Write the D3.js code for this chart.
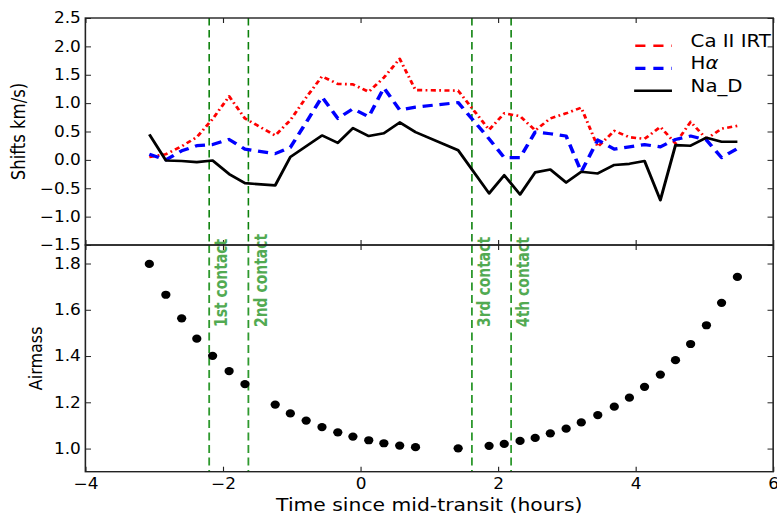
<!DOCTYPE html>
<html>
<head>
<meta charset="utf-8">
<script src="https://cdn.jsdelivr.net/npm/d3@7"></script>
<style>
  html, body { margin: 0; padding: 0; background: #fff; }
  svg { display: block; }
  text { font-family: "DejaVu Sans", "Bitstream Vera Sans", sans-serif; }
</style>
</head>
<body>
<svg id="fig" width="777" height="516"></svg>
<script>
// Observation times (hours from mid-transit)
const times = [-3.07, -2.83, -2.60, -2.38, -2.15, -1.91, -1.68, -1.24, -1.02, -0.79,
               -0.56, -0.33, -0.11, 0.12, 0.34, 0.57, 0.80, 1.42, 1.87, 2.09,
               2.32, 2.54, 2.76, 2.99, 3.21, 3.45, 3.69, 3.91, 4.13, 4.36,
               4.58, 4.80, 5.03, 5.25, 5.48];

// Line shifts (km/s)
const caII = [0.05, 0.10, 0.24, 0.40, 0.72, 1.12, 0.73, 0.43, 0.70, 1.10,
              1.47, 1.34, 1.33, 1.20, 1.45, 1.78, 1.23, 1.22, 0.53, 0.82,
              0.77, 0.52, 0.73, 0.82, 0.92, 0.23, 0.51, 0.40, 0.37, 0.58,
              0.29, 0.67, 0.37, 0.55, 0.60];
const halpha = [0.10, 0.00, 0.16, 0.25, 0.27, 0.36, 0.19, 0.11, 0.22, 0.66,
                1.11, 0.73, 0.90, 0.76, 1.27, 0.88, 0.93, 1.01, 0.37, 0.04,
                0.04, 0.49, 0.46, 0.42, -0.21, 0.35, 0.19, 0.23, 0.27, 0.23,
                0.36, 0.42, 0.35, 0.04, 0.20];
const naD = [0.45, -0.01, -0.02, -0.04, -0.01, -0.25, -0.41, -0.45, 0.05, 0.24,
             0.43, 0.30, 0.56, 0.42, 0.47, 0.66, 0.49, 0.17, -0.59, -0.27,
             -0.61, -0.22, -0.17, -0.40, -0.21, -0.24, -0.09, -0.07, -0.02, -0.71,
             0.26, 0.25, 0.39, 0.32, 0.32];

// Airmass at each exposure
const airmass = [1.798, 1.665, 1.563, 1.475, 1.401, 1.335, 1.279, 1.190, 1.152, 1.121,
                 1.093, 1.070, 1.052, 1.036, 1.023, 1.013, 1.006, 1.001, 1.012, 1.020,
                 1.033, 1.046, 1.066, 1.086, 1.113, 1.145, 1.181, 1.220, 1.267, 1.320,
                 1.382, 1.452, 1.533, 1.630, 1.742];

// Transit contact times
const contactTimes = [-2.20, -1.63, 1.62, 2.19];
const contactLabels = ["1st contact", "2nd contact", "3rd contact", "4th contact"];

const seriesNames = ["Ca II IRT", "H", "Na_D"];
const xTicks = [-4, -2, 0, 2, 4, 6];
const shiftTicks = [-1.5, -1.0, -0.5, 0.0, 0.5, 1.0, 1.5, 2.0, 2.5];
const airmassTicks = [1.0, 1.2, 1.4, 1.6, 1.8];

// The figure is laid out on a 688-wide canvas and stretched to 777 px.
const W = 777, baseW = 688, sx = W / baseW;
const svg = d3.select("#fig");
const g = svg.append("g").attr("transform", `scale(${sx},1)`);

const xL = 75.6, xR = 684.6, yTop = 18, yMid = 245, yBot = 471.7;
const x = d3.scaleLinear().domain([-4, 6]).range([xL, xR]);
const yS = d3.scaleLinear().domain([-1.5, 2.5]).range([yMid, yTop]);
const yA = d3.scaleLinear().domain([0.9, 1.88]).range([yBot, yMid]);

const fmt1 = d3.format(".1f");
const fmtInt = d3.format("d");
const tickLen = 5;

function styleAxis(sel, fontSize) {
  sel.select(".domain").remove();
  sel.selectAll(".tick line").attr("stroke", "#222").attr("stroke-width", 1);
  sel.selectAll(".tick text").attr("font-size", fontSize).style("fill", "#000")
     .attr("font-family", "DejaVu Sans, sans-serif");
}

// Clip paths for the two panels
const defs = svg.append("defs");
defs.append("clipPath").attr("id", "clipTop").append("rect")
  .attr("x", xL).attr("y", yTop).attr("width", xR - xL).attr("height", yMid - yTop);
defs.append("clipPath").attr("id", "clipBot").append("rect")
  .attr("x", xL).attr("y", yMid).attr("width", xR - xL).attr("height", yBot - yMid);

// ---------- Top panel: line shifts ----------
const topPlot = g.append("g").attr("clip-path", "url(#clipTop)");

topPlot.selectAll("line.contact").data(contactTimes).enter().append("line")
  .attr("class", "contact")
  .attr("x1", d => x(d)).attr("x2", d => x(d))
  .attr("y1", yTop).attr("y2", yMid)
  .attr("stroke", "#0b800b").attr("stroke-width", 1.4)
  .attr("stroke-dasharray", "7.5,4.5");

const line = (vals, yScale) => d3.line()
  .x((d, i) => x(times[i])).y(d => yScale(d))(vals);

const seriesStyles = [
  { vals: caII,   color: "#ff0000", width: 2.6, dash: "4.5,3,1.6,3" },
  { vals: halpha, color: "#0000ff", width: 3.2, dash: "9,6" },
  { vals: naD,    color: "#000000", width: 2.6, dash: null }
];
seriesStyles.forEach(s => {
  topPlot.append("path")
    .attr("d", line(s.vals, yS))
    .attr("fill", "none")
    .attr("stroke", s.color)
    .attr("stroke-width", s.width)
    .attr("stroke-linejoin", "round")
    .attr("stroke-dasharray", s.dash);
});

// Legend (no frame)
const legend = g.append("g");
const legRows = [45.8, 68.3, 90.8];
const legDash = ["9,7", "9,7", null];
seriesStyles.forEach((s, i) => {
  legend.append("line")
    .attr("x1", 561.5).attr("x2", 595)
    .attr("y1", legRows[i]).attr("y2", legRows[i])
    .attr("stroke", s.color).attr("stroke-width", s.width)
    .attr("stroke-dasharray", legDash[i] ? legDash[i] : null)
    .attr("stroke-dashoffset", legDash[i] ? -1 : null);
  const t = legend.append("text")
    .attr("x", 611.5).attr("y", legRows[i] + 1.2)
    .attr("font-size", 17.5)
    .style("fill", "#000");
  t.append("tspan").text(seriesNames[i]);
  if (i === 1) {
    t.append("tspan").attr("font-style", "italic").text("α");
  }
});

// Top panel axes
const aLeftT = g.append("g").attr("transform", `translate(${xL},0)`)
  .call(d3.axisLeft(yS).tickValues(shiftTicks).tickFormat(fmt1)
    .tickSizeInner(-tickLen).tickSizeOuter(0).tickPadding(4));
styleAxis(aLeftT, 15);
const aRightT = g.append("g").attr("transform", `translate(${xR},0)`)
  .call(d3.axisRight(yS).tickValues(shiftTicks).tickFormat("")
    .tickSizeInner(-tickLen).tickSizeOuter(0));
styleAxis(aRightT, 15);
const aTopT = g.append("g").attr("transform", `translate(0,${yTop})`)
  .call(d3.axisTop(x).tickValues(xTicks).tickFormat("")
    .tickSizeInner(-tickLen).tickSizeOuter(0));
styleAxis(aTopT, 15);
const aBotT = g.append("g").attr("transform", `translate(0,${yMid})`)
  .call(d3.axisBottom(x).tickValues(xTicks).tickFormat("")
    .tickSizeInner(-tickLen).tickSizeOuter(0));
styleAxis(aBotT, 15);

// ---------- Bottom panel: airmass ----------
const botPlot = g.append("g").attr("clip-path", "url(#clipBot)");

botPlot.selectAll("line.contact").data(contactTimes).enter().append("line")
  .attr("class", "contact")
  .attr("x1", d => x(d)).attr("x2", d => x(d))
  .attr("y1", yMid).attr("y2", yBot)
  .attr("stroke", "#2e992e").attr("stroke-width", 1.6)
  .attr("stroke-dasharray", "8,4.5");

botPlot.selectAll("circle").data(airmass).enter().append("circle")
  .attr("cx", (d, i) => x(times[i]))
  .attr("cy", d => yA(d))
  .attr("r", 4.1)
  .attr("fill", "#000");

g.selectAll("text.contactLabel").data(contactTimes).enter().append("text")
  .attr("class", "contactLabel")
  .attr("transform", d => `translate(${x(d) + 16.2},327) rotate(-90)`)
  .style("font-family", "'Liberation Sans Narrow', 'DejaVu Sans Condensed', 'Roboto Condensed', sans-serif")
  .attr("font-stretch", "condensed")
  .attr("font-weight", "bold")
  .attr("font-size", 15.5)
  .style("fill", "#52aa52")
  .text((d, i) => contactLabels[i]);

const aLeftB = g.append("g").attr("transform", `translate(${xL},0)`)
  .call(d3.axisLeft(yA).tickValues(airmassTicks).tickFormat(fmt1)
    .tickSizeInner(-tickLen).tickSizeOuter(0).tickPadding(4));
styleAxis(aLeftB, 15);
const aRightB = g.append("g").attr("transform", `translate(${xR},0)`)
  .call(d3.axisRight(yA).tickValues(airmassTicks).tickFormat("")
    .tickSizeInner(-tickLen).tickSizeOuter(0));
styleAxis(aRightB, 15);
const aTopB = g.append("g").attr("transform", `translate(0,${yMid})`)
  .call(d3.axisTop(x).tickValues(xTicks).tickFormat("")
    .tickSizeInner(-tickLen).tickSizeOuter(0));
styleAxis(aTopB, 15);
const aBotB = g.append("g").attr("transform", `translate(0,${yBot})`)
  .call(d3.axisBottom(x).tickValues(xTicks).tickFormat(fmtInt)
    .tickSizeInner(-tickLen).tickSizeOuter(0).tickPadding(7));
styleAxis(aBotB, 15);

// Spines
[[yTop, yMid], [yMid, yBot]].forEach(([y0, y1]) => {
  g.append("rect")
    .attr("x", xL).attr("y", y0)
    .attr("width", xR - xL).attr("height", y1 - y0)
    .attr("fill", "none").attr("stroke", "#222").attr("stroke-width", 1.4);
});

// Axis titles
g.append("text")
  .attr("x", (xL + xR) / 2).attr("y", 511)
  .attr("text-anchor", "middle").attr("font-size", 18)
  .style("fill", "#000")
  .text("Time since mid-transit (hours)");
g.append("text")
  .attr("transform", `translate(22.3,${(yTop + yMid) / 2}) rotate(-90)`)
  .attr("text-anchor", "middle").attr("font-size", 16.5)
  .style("fill", "#000")
  .text("Shifts km/s)");
g.append("text")
  .attr("transform", `translate(36.8,${(yMid + yBot) / 2}) rotate(-90)`)
  .attr("text-anchor", "middle").attr("font-size", 16)
  .style("fill", "#000")
  .text("Airmass");
</script>
</body>
</html>
